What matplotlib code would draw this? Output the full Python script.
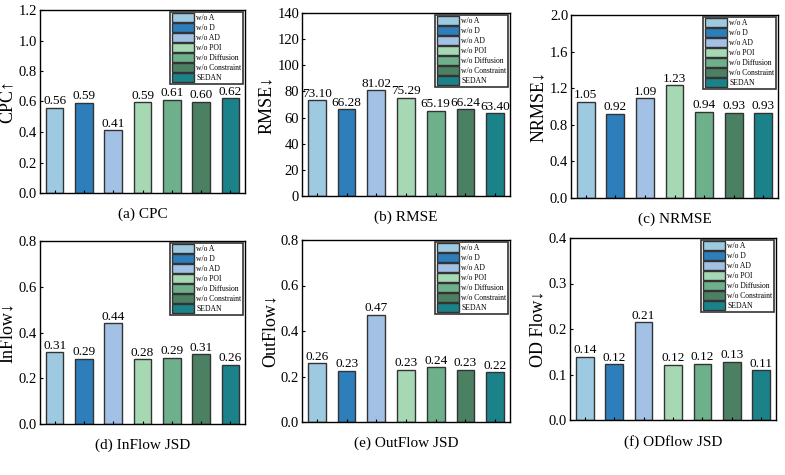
import matplotlib
matplotlib.use("Agg")
import matplotlib.pyplot as plt
import numpy as np

plt.rcParams['font.family'] = ['Liberation Serif', 'DejaVu Serif']

models = ["w/o A", "w/o D", "w/o AD", "w/o POI", "w/o Diffusion", "w/o Constraint", "SEDAN"]
colors = ["#9ecae1", "#2e7ebc", "#a3c1e5", "#a6d8b4", "#6eb08c", "#4b8063", "#1b8289"]

cpc = [0.56, 0.59, 0.41, 0.595, 0.61, 0.60, 0.62]
cpc_lbl = ["0.56", "0.59", "0.41", "0.59", "0.61", "0.60", "0.62"]
rmse = [73.10, 66.28, 81.02, 75.29, 65.19, 66.24, 63.40]
nrmse = [1.05, 0.92, 1.09, 1.23, 0.94, 0.93, 0.93]
inflow = [0.313, 0.286, 0.44, 0.283, 0.289, 0.305, 0.259]
inflow_lbl = ["0.31", "0.29", "0.44", "0.28", "0.29", "0.31", "0.26"]
outflow = [0.258, 0.225, 0.472, 0.23, 0.24, 0.23, 0.219]
outflow_lbl = ["0.26", "0.23", "0.47", "0.23", "0.24", "0.23", "0.22"]
odflow = [0.139, 0.122, 0.215, 0.121, 0.124, 0.128, 0.109]
odflow_lbl = ["0.14", "0.12", "0.21", "0.12", "0.12", "0.13", "0.11"]

W, H = 785, 475
panels = [
    # values, labels, ylabel, ylim, yticks, title, fmt, rect(px: left, top, right, bottom)
    (cpc, cpc_lbl, "CPC↑", 1.2, np.arange(0, 1.21, 0.2), "(a) CPC", "{:.1f}", (40, 10, 245, 193)),
    (rmse, ["%.2f" % v for v in rmse], "RMSE↓", 140, np.arange(0, 141, 20), "(b) RMSE", "{:.0f}", (302, 13, 510, 196)),
    (nrmse, ["%.2f" % v for v in nrmse], "NRMSE↓", 2.0, np.arange(0, 2.01, 0.4), "(c) NRMSE", "{:.1f}", (571, 15, 778, 198)),
    (inflow, inflow_lbl, "InFlow↓", 0.8, np.arange(0, 0.81, 0.2), "(d) InFlow JSD", "{:.1f}", (40, 241, 245, 424)),
    (outflow, outflow_lbl, "OutFlow↓", 0.8, np.arange(0, 0.81, 0.2), "(e) OutFlow JSD", "{:.1f}", (302, 240, 510, 422)),
    (odflow, odflow_lbl, "OD Flow↓", 0.4, np.arange(0, 0.41, 0.1), "(f) ODflow JSD", "{:.1f}", (570, 238, 776, 420)),
]

fig = plt.figure(figsize=(W / 100, H / 100), dpi=100)
x = np.arange(len(models))

for vals, lbls, ylab, ymax, yt, title, fmt, (l, t, r, b) in panels:
    ax = fig.add_axes([l / W, 1 - b / H, (r - l) / W, (b - t) / H])
    bars = ax.bar(x, vals, width=0.6, color=colors, edgecolor="#333333", linewidth=1.0)
    for xi, v, s in zip(x, vals, lbls):
        ax.text(xi, v + ymax * 0.003, s, ha="center", va="bottom", fontsize=9.5)
    ax.set_xlim(-0.5, 6.5)
    ax.set_ylim(0, ymax)
    ax.set_yticks(yt)
    ax.set_yticklabels([fmt.format(v) for v in yt])
    ax.set_xticks(x)
    ax.set_xticklabels([])
    ax.tick_params(axis="both", direction="in", length=2.5, width=0.8, labelsize=10.5)
    ax.tick_params(axis="y", pad=2)
    ax.set_ylabel(ylab, fontsize=13, labelpad=2)
    for sp in ax.spines.values():
        sp.set_linewidth(1.0)
    ax.text(0.5, -0.08, title, transform=ax.transAxes, ha="center", va="top", fontsize=11)
    leg = ax.legend(bars, models, loc="upper right", fontsize=5.5, frameon=True, fancybox=False,
                    handlelength=2.9, handleheight=1.35, labelspacing=0.15, borderpad=0.2,
                    handletextpad=0.3, borderaxespad=0.25)
    leg.get_frame().set_edgecolor("#333333")
    leg.get_frame().set_linewidth(1.2)
    leg.get_frame().set_alpha(1)

fig.savefig("out.png", dpi=100)
